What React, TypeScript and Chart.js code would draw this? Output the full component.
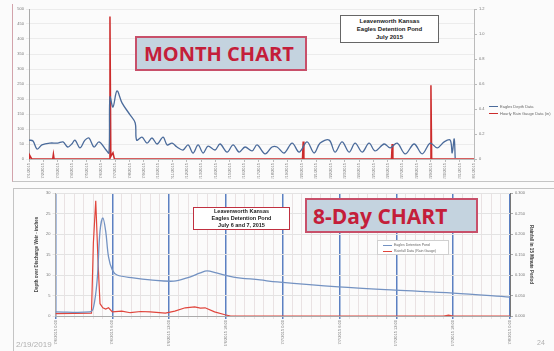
import React, { useEffect, useRef } from 'react';
import { Chart, registerables } from 'chart.js';

Chart.register(...registerables);

// ---------- MONTH CHART data ----------
const monthLabels = [
  '7/1/2015', '7/2/2015', '7/3/2015', '7/4/2015', '7/5/2015', '7/6/2015', '7/7/2015', '7/8/2015',
  '7/9/2015', '7/10/2015', '7/11/2015', '7/12/2015', '7/13/2015', '7/14/2015', '7/15/2015', '7/16/2015',
  '7/17/2015', '7/18/2015', '7/19/2015', '7/20/2015', '7/21/2015', '7/22/2015', '7/23/2015', '7/24/2015',
  '7/25/2015', '7/26/2015', '7/27/2015', '7/28/2015', '7/29/2015', '7/30/2015', '7/31/2015', '8/1/2015',
];

// [day since 7/1, depth]
const depthMonth: [number, number][] = [
  [0, 63], [0.28, 60], [0.56, 33], [0.9, 47], [1.46, 53], [2.0, 53], [2.37, 57], [2.7, 40],
  [2.98, 50], [3.2, 63], [3.55, 37], [3.9, 63], [4.18, 70], [4.53, 40], [4.88, 57], [5.37, 30],
  [5.57, 20], [5.64, 207], [5.85, 173], [6.13, 227], [6.48, 187], [7.04, 147], [7.4, 120], [7.5, 63],
  [7.87, 73], [8.22, 53], [8.57, 70], [8.92, 50], [9.34, 73], [9.62, 47], [9.97, 53], [10.31, 40],
  [10.73, 30], [11.08, 47], [11.43, 20], [11.78, 47], [12.13, 20], [12.47, 43], [12.96, 30], [13.31, 50],
  [13.8, 23], [14.22, 47], [14.64, 23], [15.05, 40], [15.54, 27], [15.89, 47], [16.45, 17], [16.93, 40],
  [17.28, 40], [17.77, 20], [18.33, 53], [18.82, 23], [19.37, 57], [19.86, 20], [20.28, 53], [20.91, 63],
  [21.32, 23], [21.81, 57], [22.3, 23], [22.72, 53], [23.21, 23], [23.69, 53], [24.11, 27], [24.74, 50],
  [25.16, 37], [25.65, 53], [26.21, 17], [26.83, 50], [27.39, 17], [27.95, 53], [28.44, 37], [28.92, 57],
  [29.34, 63], [29.48, 20], [29.62, 67], [29.69, 3],
];

// [day since 7/1, rain inches]
const rainMonth: [number, number][] = [
  [0, 0], [0.05, 0.03], [0.2, 0], [1.65, 0], [1.7, 0.04], [1.75, 0], [5.58, 0], [5.64, 1.14],
  [5.7, 0.02], [5.85, 0.05], [5.95, 0], [19.05, 0], [19.1, 0.14], [19.15, 0], [25.25, 0], [25.3, 0.12],
  [25.35, 0], [27.95, 0], [28.0, 0.59], [28.05, 0], [31, 0],
];

// ---------- 8-DAY CHART data ----------
const eventLabels = [
  '7/6/2015 0:00', '7/6/2015 6:00', '7/6/2015 12:00', '7/6/2015 18:00', '7/7/2015 0:00',
  '7/7/2015 6:00', '7/7/2015 12:00', '7/7/2015 18:00', '7/8/2015 0:00',
];

// [hour, depth inches]
const depthEvent: [number, number][] = [
  [0, 1.0], [3.6, 1.0], [4.0, 2.0], [4.4, 8.8], [4.7, 20.7], [5.0, 23.9], [5.3, 20.7], [5.6, 14.4],
  [6.0, 11.2], [6.5, 10.0], [8.2, 9.3], [10, 8.8], [12.5, 8.5], [13.9, 9.3], [15.3, 10.5], [16, 11.0],
  [17, 10.5], [18.8, 9.5], [21.6, 8.8], [23.4, 8.3], [29.9, 7.1], [35.9, 6.3], [42, 5.6], [48, 4.6],
];

// [hour, rain per 15 min]
const rainEvent: [number, number][] = [
  [0, 0.006], [3.8, 0.007], [4.0, 0.178], [4.25, 0.281], [4.5, 0.129], [4.7, 0.03], [5.0, 0.02], [5.3, 0.017],
  [5.6, 0.02], [6, 0.01], [7, 0.012], [7.9, 0.008], [9, 0.011], [10, 0.01], [11.6, 0.007], [12.6, 0.012],
  [13.7, 0.02], [14.7, 0.022], [15.3, 0.019], [15.8, 0.02], [16.8, 0.01], [17.9, 0.003], [18.5, 0], [41, 0],
  [41.5, 0.002], [42, 0], [48, 0],
];

const FONT = 'Liberation Sans';
const BLUE_M = '#4b6b9b';
const RED = '#cc2b2b';
const BLUE_E = '#7392c2';

const toXY = (arr: [number, number][]) => arr.map(([x, y]) => ({ x, y }));

export default function App() {
  const topRef = useRef<HTMLCanvasElement | null>(null);
  const botRef = useRef<HTMLCanvasElement | null>(null);

  useEffect(() => {
    const top = new Chart(topRef.current as HTMLCanvasElement, {
      type: 'line',
      data: {
        datasets: [
          {
            label: 'Eagles Depth Data',
            data: toXY(depthMonth),
            borderColor: BLUE_M,
            borderWidth: 1.3,
            pointRadius: 0,
            tension: 0.35,
            yAxisID: 'y',
          },
          {
            label: 'Hourly Rain Gauge Data',
            data: toXY(rainMonth),
            borderColor: RED,
            borderWidth: 1.5,
            pointRadius: 0,
            tension: 0,
            yAxisID: 'y1',
          },
        ],
      },
      options: {
        responsive: false,
        animation: false,
        layout: { padding: { left: 12, top: 9, right: 64, bottom: 2 } },
        plugins: { legend: { display: false }, tooltip: { enabled: false } },
        scales: {
          x: {
            type: 'linear',
            min: 0,
            max: 31,
            afterFit: (s: any) => { s.height = 20; },
            ticks: {
              stepSize: 1,
              autoSkip: false,
              maxRotation: 90,
              minRotation: 90,
              padding: 1,
              font: { size: 4, family: FONT },
              color: '#777',
              callback: (v: any) => monthLabels[v] ?? '',
            },
            grid: { drawOnChartArea: false, color: '#bbb', tickLength: 3 },
            border: { color: '#bbb' },
          },
          y: {
            position: 'left',
            min: 0,
            max: 500,
            afterFit: (s: any) => { s.width = 17; },
            ticks: { stepSize: 50, padding: 2, font: { size: 4, family: FONT }, color: '#777' },
            grid: { color: '#ececec', tickLength: 3 },
            border: { color: '#aaa' },
          },
          y1: {
            position: 'right',
            min: 0,
            max: 1.2,
            afterFit: (s: any) => { s.width = 16; },
            ticks: { stepSize: 0.2, padding: 2, font: { size: 4, family: FONT }, color: '#777' },
            grid: { drawOnChartArea: false, color: '#bbb', tickLength: 3 },
            border: { color: '#bbb' },
          },
        },
      },
    } as any);

    const bot = new Chart(botRef.current as HTMLCanvasElement, {
      type: 'line',
      data: {
        datasets: [
          {
            label: 'Eagles Detention Pond',
            data: toXY(depthEvent),
            borderColor: BLUE_E,
            borderWidth: 1.3,
            pointRadius: 0,
            tension: 0.35,
            yAxisID: 'y',
          },
          {
            label: 'Rainfall Data (Rain Gauge)',
            data: toXY(rainEvent),
            borderColor: '#e0453c',
            borderWidth: 1.2,
            pointRadius: 0,
            tension: 0,
            yAxisID: 'y1',
          },
        ],
      },
      options: {
        responsive: false,
        animation: false,
        layout: { padding: { left: 30, top: 9, right: 16, bottom: 5 } },
        plugins: { legend: { display: false }, tooltip: { enabled: false } },
        scales: {
          x: {
            type: 'linear',
            min: 0,
            max: 48,
            afterFit: (s: any) => { s.height = 30; },
            ticks: {
              stepSize: 1,
              autoSkip: false,
              maxRotation: 90,
              minRotation: 90,
              padding: 1,
              font: { size: 4, family: FONT },
              color: '#777',
              callback: (v: any) => (v % 6 === 0 ? eventLabels[v / 6] : ''),
            },
            grid: {
              color: (c: any) => (c.tick && c.tick.value % 6 === 0 ? '#5b80c2' : '#e4dcdd'),
              lineWidth: (c: any) => (c.tick && c.tick.value % 6 === 0 ? 1.5 : 0.8),
              tickLength: 3,
            },
            border: { color: '#aaa' },
          },
          y: {
            position: 'left',
            min: 0,
            max: 30,
            afterFit: (s: any) => { s.width = 25.5; },
            title: {
              display: true,
              text: 'Depth over Discharge Weir - inches',
              font: { size: 4.5, family: FONT, weight: 'bold' },
              color: '#444',
              padding: { top: 4, bottom: 0 },
            },
            ticks: { stepSize: 5, padding: 2, font: { size: 4, family: FONT }, color: '#777' },
            grid: { color: '#e3e3e3', tickLength: 3 },
            border: { color: '#aaa' },
          },
          y1: {
            position: 'right',
            min: 0,
            max: 0.3,
            afterFit: (s: any) => { s.width = 28; },
            title: {
              display: true,
              text: 'Rainfall in 15 Minute Period',
              font: { size: 4.5, family: FONT, weight: 'bold' },
              color: '#444',
              padding: { top: 4, bottom: 0 },
            },
            ticks: {
              stepSize: 0.05,
              padding: 2,
              font: { size: 4, family: FONT },
              color: '#777',
              callback: (v: any) => Number(v).toFixed(3),
            },
            grid: { drawOnChartArea: false, color: '#aaa', tickLength: 3 },
            border: { color: '#777' },
          },
        },
      },
    } as any);

    return () => {
      top.destroy();
      bot.destroy();
    };
  }, []);

  const chartBox: React.CSSProperties = {
    position: 'absolute',
    background: '#c4d3df',
    border: '2px solid #c8506a',
    color: '#c41e3a',
    fontFamily: 'Open Sans',
    fontWeight: 700,
    display: 'flex',
    alignItems: 'center',
    justifyContent: 'flex-start',
    boxSizing: 'border-box',
    whiteSpace: 'nowrap',
  };

  const titleBox: React.CSSProperties = {
    position: 'absolute',
    background: '#fff',
    fontFamily: FONT,
    fontWeight: 700,
    color: '#222',
    textAlign: 'center',
    boxSizing: 'border-box',
    display: 'flex',
    flexDirection: 'column',
    justifyContent: 'center',
    whiteSpace: 'nowrap',
  };

  const legRow = (color: string, text: string, fs: number): React.ReactNode => (
    <div style={{ display: 'flex', alignItems: 'center', height: fs + 3 }}>
      <span style={{ display: 'inline-block', width: 9, height: 1, background: color, marginRight: 2 }} />
      <span style={{ fontSize: fs, fontFamily: FONT, color: '#666', lineHeight: 1 }}>{text}</span>
    </div>
  );

  return (
    <div
      style={{
        position: 'fixed',
        left: 0,
        top: 0,
        width: 554,
        height: 351,
        background: '#fbfbfb',
        overflow: 'hidden',
      }}
    >
      {/* frames */}
      <div style={{ position: 'absolute', left: 12, top: 4, width: 542, height: 177, borderLeft: '1px solid #d3a3ab', borderBottom: '1px solid #c4c4c4' }} />
      <div style={{ position: 'absolute', left: 13, top: 188, width: 541, height: 163, borderLeft: '1px solid #c4c4c4', borderTop: '1px solid #c4c4c4' }} />

      <canvas ref={topRef} width={554} height={181} style={{ position: 'absolute', left: 0, top: 0, width: 554, height: 181 }} />
      <canvas ref={botRef} width={554} height={167} style={{ position: 'absolute', left: 0, top: 184, width: 554, height: 167 }} />

      {/* MONTH chart overlays */}
      <div style={{ ...chartBox, left: 135, top: 36, width: 172, height: 35, fontSize: 20, paddingLeft: 7 }}>MONTH CHART</div>
      <div style={{ ...titleBox, left: 340, top: 15, width: 99, height: 28, border: '1px solid #666', fontSize: 6, lineHeight: '8px' }}>
        <div>Leavenworth Kansas</div>
        <div>Eagles Detention Pond</div>
        <div>July 2015</div>
      </div>
      <div style={{ position: 'absolute', left: 489, top: 103 }}>
        {legRow(BLUE_M, 'Eagles Depth Data', 4)}
        {legRow(RED, 'Hourly Rain Gauge Data (in)', 4)}
      </div>

      {/* 8-Day chart overlays */}
      <div style={{ ...chartBox, left: 305, top: 198, width: 173, height: 35, fontSize: 21, paddingLeft: 6 }}>8-Day CHART</div>
      <div style={{ ...titleBox, left: 193, top: 207, width: 97, height: 23, border: '1px solid #c03040', fontSize: 5.5, lineHeight: '7px' }}>
        <div>Leavenworth Kansas</div>
        <div>Eagles Detention Pond</div>
        <div>July 6 and 7, 2015</div>
      </div>
      <div style={{ position: 'absolute', left: 377, top: 240, width: 72, height: 15, background: '#fff', border: '1px solid #d0d0d0', boxSizing: 'border-box', padding: '1px 0 0 5px' }}>
        {legRow(BLUE_E, 'Eagles Detention Pond', 3.5)}
        {legRow('#e0453c', 'Rainfall Data (Rain Gauge)', 3.5)}
      </div>

      {/* page marks */}
      <div style={{ position: 'absolute', left: 16, top: 340, fontSize: 8, fontFamily: FONT, color: '#b0b0b0' }}>2/19/2019</div>
      <div style={{ position: 'absolute', left: 537, top: 339, fontSize: 7, fontFamily: FONT, color: '#b0b0b0' }}>24</div>
    </div>
  );
}
